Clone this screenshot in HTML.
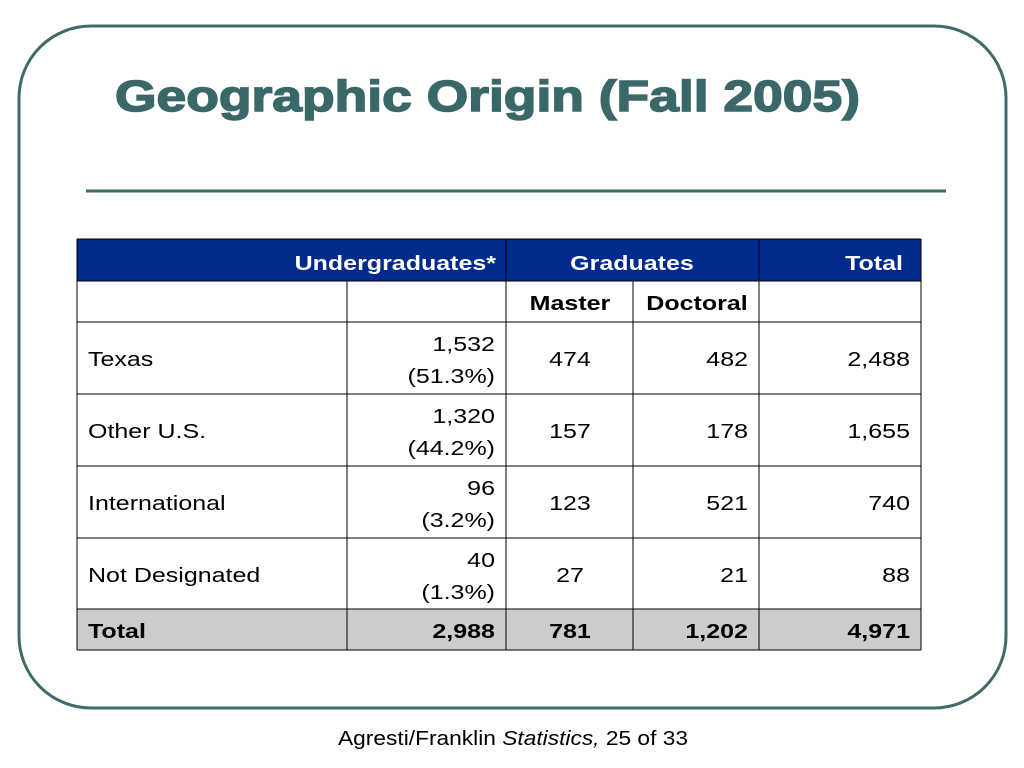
<!DOCTYPE html>
<html><head><meta charset="utf-8"><style>
html,body{margin:0;padding:0;background:#fff;}
svg{display:block;font-family:"Liberation Sans",Arial,sans-serif;}
</style></head><body>
<svg width="1024" height="768" viewBox="0 0 1024 768">
<rect x="19" y="26" width="987" height="682" rx="72" ry="72" fill="none" stroke="#3f6b6b" stroke-width="3"/>
<text x="115" y="111" font-size="44" font-weight="bold" fill="#3a6868" stroke="#3a6868" stroke-width="1.5" textLength="745" lengthAdjust="spacingAndGlyphs">Geographic Origin (Fall 2005)</text>
<line x1="86" y1="191" x2="946" y2="191" stroke="#3f6b6b" stroke-width="3"/>
<g id="tbl"></g>
<text x="338" y="745" font-size="20" fill="#000" textLength="350" lengthAdjust="spacingAndGlyphs">Agresti/Franklin <tspan font-style="italic">Statistics,</tspan> 25 of 33</text>
</svg>
<script>
const rowLabels=["Texas","Other U.S.","International","Not Designated"];
const undergrad=["1,532","1,320","96","40"];
const undergradPct=["(51.3%)","(44.2%)","(3.2%)","(1.3%)"];
const master=["474","157","123","27"];
const doctoral=["482","178","521","21"];
const totals=["2,488","1,655","740","88"];
const totalRow=["Total","2,988","781","1,202","4,971"];
const NS="http://www.w3.org/2000/svg";
const g=document.getElementById('tbl');
const cx=[77,347,506,633,759,921];
const ry=[239,281,322,394,466,538,609,650];
function mk(tag,attrs){const e=document.createElementNS(NS,tag);for(const k in attrs)e.setAttribute(k,attrs[k]);g.appendChild(e);return e;}
function txt(x,y,s,anchor,bold,fill){const t=mk('text',{x:x,y:y,'font-size':20,'text-anchor':anchor,fill:fill||'#000'});if(bold)t.setAttribute('font-weight','bold');t.textContent=s;const L=t.getComputedTextLength();if(L>0){t.setAttribute('textLength',(L*1.25).toFixed(1));t.setAttribute('lengthAdjust','spacingAndGlyphs');}return t;}
let r=mk('rect',{x:77,y:239,width:844,height:42,fill:'#002a8c'});


r=mk('rect',{x:77,y:609,width:844,height:41,fill:'#cccccc'});


for(let i=0;i<ry.length;i++){const l=mk('line',{x1:77,y1:ry[i],x2:921,y2:ry[i],stroke:'#000','stroke-width':1});}
for(let i=0;i<cx.length;i++){const y1=(i===1||i===3)?281:239;const l=mk('line',{x1:cx[i],y1:y1,x2:cx[i],y2:650,stroke:'#000','stroke-width':1});}
let t=txt(496,270,"Undergraduates*","end",true,"#fff");


t=txt(632,270,"Graduates","middle",true,"#fff");


t=txt(903,270,"Total","end",true,"#fff");


t=txt(570,310,"Master","middle",true);


t=txt(697,310,"Doctoral","middle",true);


for(let i=0;i<rowLabels.length;i++){
 const top=ry[i+2],mid=top+44;
 t=txt(88,mid,rowLabels[i],"start",false);
 
 
 t=txt(495,top+29,undergrad[i],"end",false);
 
 
 t=txt(495,top+61,undergradPct[i],"end",false);
 
 
 t=txt(570,mid,master[i],"middle",false);
 
 
 t=txt(748,mid,doctoral[i],"end",false);
 
 
 t=txt(910,mid,totals[i],"end",false);
 
 
}
t=txt(88,638,totalRow[0],"start",true);


t=txt(495,638,totalRow[1],"end",true);


t=txt(570,638,totalRow[2],"middle",true);


t=txt(748,638,totalRow[3],"end",true);


t=txt(910,638,totalRow[4],"end",true);


</script>
</body></html>
